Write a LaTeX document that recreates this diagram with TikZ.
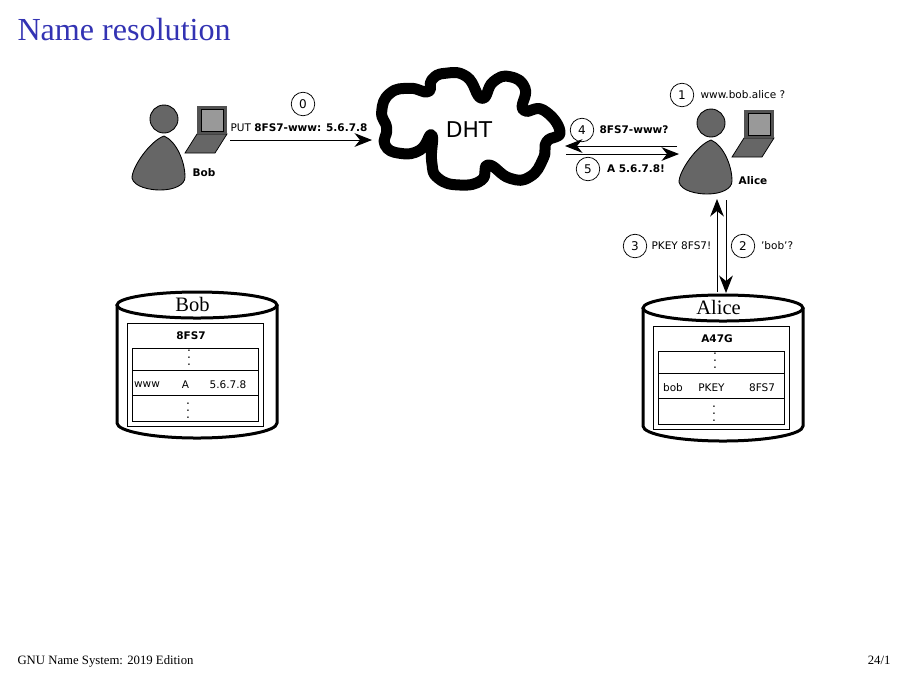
\documentclass[tikz,border=0pt]{standalone}
\usepackage{fontspec}
\setmainfont{Liberation Serif}
\setsansfont{DejaVu Sans}
\usepackage{tikz}
\usetikzlibrary{arrows.meta, positioning, calc}
\usepackage{xcolor}
\definecolor{slideblue}{RGB}{51,51,179}
\definecolor{usergrey}{RGB}{102,102,102}
\definecolor{screengrey}{RGB}{153,153,153}
\newcommand{\tinysf}{\fontsize{4.2}{5}\selectfont\sffamily}
\newcommand{\dbstore}[8]{%
  \begin{scope}[shift={(#1,#2)}]
    \draw[dbline] (0,0) -- (0,118) arc[start angle=180, end angle=0, x radius=80, y radius=15] -- (160,0);
    \draw[dbline] (80,0) ellipse[x radius=80, y radius=13];
    \node[dbname] (#3name) at (75.5,-1) {#3};
    \draw[tabline] (10,18) rectangle (146,121);
    \draw[tabline] (15,43) rectangle (141,116);
    \draw[tabline] (15,65) -- (141,65);
    \draw[tabline] (15,90) -- (141,90);
    \node[msgb] (#3key) at (74,30.5) {#4};
    \node[dots] (#3dotsA) at (72,47) {$\vdots$};
    \node[dots] (#3dotsB) at (71,100) {$\vdots$};
    \node[msg] (#3lab) at (30,80) {#5};
    \node[msg] (#3typ) at (68.5,80) {#6};
    \node[msg] (#3val) at (#7,80) {#8};
  \end{scope}}
\tikzset{
  dbline/.style={line width=1.2pt},
  tabline/.style={line width=0.3pt},
  dbname/.style={font=\fontsize{8.2}{10}\selectfont},
  msg/.style={font=\tinysf, inner sep=0pt},
  msgb/.style={font=\tinysf\bfseries, inner sep=0pt},
  dots/.style={font=\fontsize{7}{8}\selectfont\sffamily, inner sep=0pt, scale=0.7},
  stepnum/.style={circle, draw, line width=0.3pt, minimum size=9.4pt, inner sep=0pt, font=\fontsize{4.8}{6}\selectfont\sffamily},
  flow/.style={line width=0.4pt, -{Stealth[length=7pt,width=5.5pt,inset=2.2pt]}},
  person/.pic={
    \draw[line width=0.35pt, fill=usergrey] (0,0) circle[radius=14];
    \draw[line width=0.35pt, fill=usergrey] (0,17) .. controls (-14,22) and (-32,48) .. (-32,59)
      .. controls (-30,68) and (-14,71) .. (-4,71) .. controls (10,71) and (21,66) .. (21,58)
      .. controls (21,42) and (12,22) .. (0,17) -- cycle;
  },
  laptop/.pic={
    \fill[usergrey, draw=black, line width=0.3pt] (0,28) -- (30,28) -- (18,47) -- (-12,47) -- cycle;
    \fill[usergrey!80!black] (0,0) rectangle (30,28);
    \draw[line width=0.3pt, fill=screengrey] (4,3) rectangle (26,25);
  }
}
\begin{document}
\begin{tikzpicture}[x=0.4pt, y=-0.4pt]
  \useasboundingbox (0,0) rectangle (905,676);
  \node[anchor=base west, inner sep=0pt, text=slideblue, font=\fontsize{12.85}{16}\selectfont] (title) at (17,40) {Name resolution};
  \node[anchor=base west, inner sep=0pt, font=\fontsize{5.1}{6}\selectfont] (foot) at (17,664) {GNU Name System: 2019 Edition};
  \node[anchor=base east, inner sep=0pt, font=\fontsize{5.1}{6}\selectfont] (page) at (891,664) {24/1};
  % cloud
  \draw[line width=4.4pt, line join=round] plot[smooth cycle, tension=0.85] coordinates {
    (431.7,135) (420,150) (400,153.3) (385,145) (386.7,128.3) (381.7,111.7) (390,93.3)
    (410,88.3) (428.3,91.7) (431.7,80) (445,73.3) (466.7,76.7) (481.7,98.3) (493.3,81.7)
    (510,76.7) (525,88.3) (523.3,110) (543.3,110) (560,131.7) (546.7,141.7) (543.3,158.3)
    (530,176.7) (510,178.3) (488.3,165) (481.7,180) (460,185) (438.3,178.3) (431.7,161.7)};
  \node[font=\fontsize{8.7}{12}\selectfont\sffamily] (dht) at (469,130) {DHT};
  % users
  \pic at (164,119) {person};
  \pic at (197,106) {laptop};
  \node[msgb] (bob) at (204,173) {Bob};
  \pic at (711,123) {person};
  \pic at (744,110) {laptop};
  \node[msgb] (alice) at (753,181) {Alice};
  % stores
  \dbstore{117}{305}{Bob}{8FS7}{www}{A}{111}{5.6.7.8}
  \dbstore{643}{308}{Alice}{A47G}{bob}{PKEY}{119}{8FS7}
  % messages
  \coordinate (putS) at (230,140);
  \coordinate (putE) at (372,140);
  \draw[flow] (putS) -- (putE);
  \node[stepnum] (n0) at (303,104) {0};
  \node[anchor=base west, inner sep=0pt, font=\tinysf] (putmsg) at (230,131) {PUT \textbf{8FS7-www: 5.6.7.8}};
  \node[stepnum] (n1) at (682,95) {1};
  \node[msg, right=2.4pt of n1] (m1) {www.bob.alice ?};
  \coordinate (q4S) at (677,146);
  \coordinate (q4E) at (565,146);
  \coordinate (a5S) at (566,154);
  \coordinate (a5E) at (679,154);
  \draw[flow] (q4S) -- (q4E);
  \draw[flow] (a5S) -- (a5E);
  \node[stepnum] (n4) at (582,130) {4};
  \node[msgb, right=2pt of n4] (m4) {8FS7-www?};
  \node[stepnum] (n5) at (588,169) {5};
  \node[msgb, right=2.6pt of n5] (m5) {A 5.6.7.8!};
  \coordinate (v3S) at (717,292);
  \coordinate (v3E) at (717,199);
  \coordinate (v2S) at (726,200);
  \coordinate (v2E) at (726,293);
  \draw[flow] (v3S) -- (v3E);
  \draw[flow] (v2S) -- (v2E);
  \node[stepnum] (n3) at (635,246) {3};
  \node[msg, right=1.6pt of n3] (m3) {PKEY 8FS7!};
  \node[stepnum] (n2) at (743,246) {2};
  \node[msg, right=2.2pt of n2] (m2) {'bob'?};
\end{tikzpicture}
\end{document}
